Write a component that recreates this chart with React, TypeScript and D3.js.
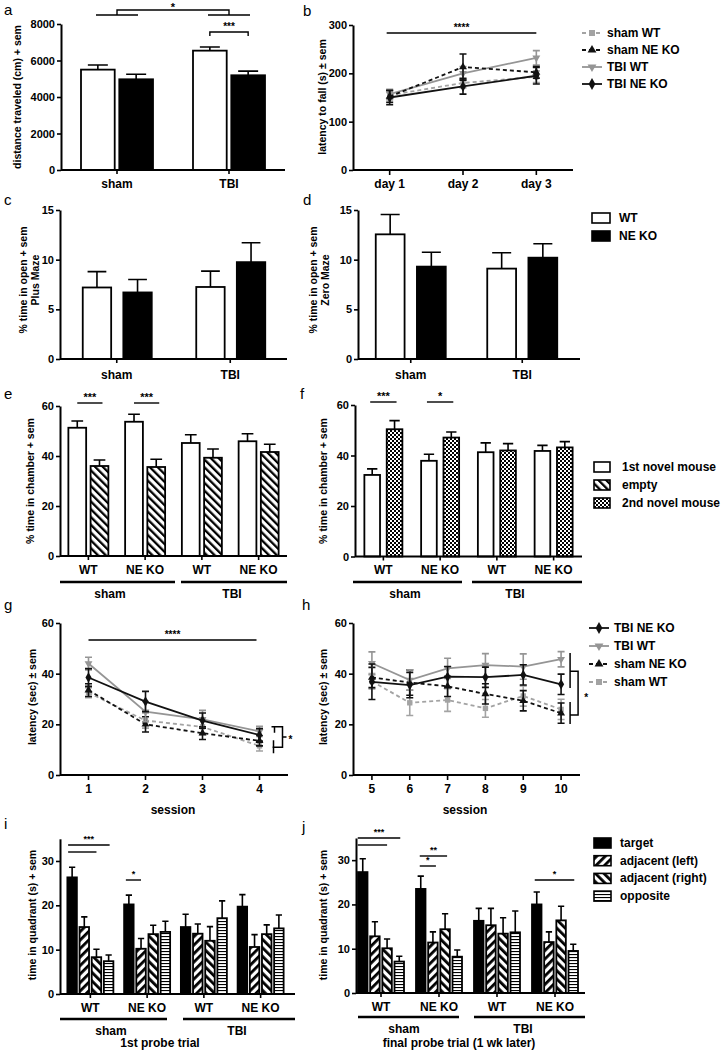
import React, { useRef, useEffect } from 'react';
import * as d3 from 'd3';

const FONT = "'Liberation Sans', Arial, Helvetica, sans-serif";

// shared categories
const injury = ['sham', 'TBI'];
const cohorts = ['sham WT', 'sham NE KO', 'TBI WT', 'TBI NE KO'];
const cohortTicks = ['WT', 'NE KO', 'WT', 'NE KO'];

// a - open field, distance traveled (cm)
const distWT = [5500, 6540];
const distWTErr = [250, 200];
const distKO = [4970, 5190];
const distKOErr = [280, 230];

// b - rotarod, latency to fall (s)
const days = ['day 1', 'day 2', 'day 3'];
const rotShamWT = [155, 180, 193];
const rotShamWTErr = [10, 10, 12];
const rotShamKO = [152, 213, 202];
const rotShamKOErr = [12, 27, 12];
const rotTbiWT = [157, 200, 232];
const rotTbiWTErr = [10, 14, 15];
const rotTbiKO = [150, 173, 195];
const rotTbiKOErr = [15, 16, 17];

// c - plus maze, % time in open
const plusWT = [7.2, 7.25];
const plusWTErr = [1.6, 1.6];
const plusKO = [6.7, 9.75];
const plusKOErr = [1.3, 1.95];

// d - zero maze, % time in open
const zeroWT = [12.55, 9.1];
const zeroWTErr = [2.0, 1.6];
const zeroKO = [9.3, 10.2];
const zeroKOErr = [1.45, 1.4];

// e - sociability, % time in chamber
const sociNovel = [51.3, 53.7, 45.2, 45.9];
const sociNovelErr = [2.7, 3.0, 3.3, 3.0];
const sociEmpty = [36.0, 35.6, 39.3, 41.6];
const sociEmptyErr = [2.4, 3.1, 3.5, 3.1];

// f - social novelty, % time in chamber
const novFirst = [32.3, 37.9, 41.3, 41.8];
const novFirstErr = [2.4, 2.6, 3.7, 2.2];
const novSecond = [50.4, 47.1, 42.0, 43.2];
const novSecondErr = [3.4, 2.2, 2.7, 2.3];

// g - water maze acquisition, sessions 1-4
const sessionsG = ['1', '2', '3', '4'];
const acqTbiKO = [38.5, 29, 21.5, 15.8];
const acqTbiKOErr = [3.5, 4, 3, 2.5];
const acqTbiWT = [44, 25, 22, 17.2];
const acqTbiWTErr = [2.5, 4, 3.5, 2];
const acqShamKO = [33.5, 20, 16.5, 13.5];
const acqShamKOErr = [2.5, 3, 2.5, 2];
const acqShamWT = [32.5, 21.5, 19, 11.5];
const acqShamWTErr = [2, 3, 3, 2];

// h - water maze reversal, sessions 5-10
const sessionsH = ['5', '6', '7', '8', '9', '10'];
const revTbiKO = [36.8, 35.5, 38.8, 38.6, 39.5, 35.8];
const revTbiKOErr = [7, 5, 4, 4, 4, 4];
const revTbiWT = [44.1, 37.5, 42.1, 43.4, 42.8, 45.7];
const revTbiWTErr = [4.5, 4, 4, 4.5, 5, 3];
const revShamKO = [38.5, 36.5, 35, 32, 29.3, 24.4];
const revShamKOErr = [4, 5, 4, 4, 4, 4];
const revShamWT = [37, 28.5, 29.6, 26.3, 31.2, 25.9];
const revShamWTErr = [3, 5, 4.5, 3.5, 4, 4];

// i - 1st probe trial, time in quadrant (s)
const p1Target = [26.3, 20.2, 15.1, 19.7];
const p1TargetErr = [2.3, 2.1, 2.9, 2.7];
const p1Left = [15.1, 10.2, 13.6, 10.6];
const p1LeftErr = [2.3, 2.3, 2.2, 2.8];
const p1Right = [8.3, 13.5, 12.0, 13.5];
const p1RightErr = [1.8, 2.0, 3.2, 2.1];
const p1Opp = [7.4, 14.0, 17.1, 14.8];
const p1OppErr = [1.4, 2.4, 3.9, 3.0];

// j - final probe trial, time in quadrant (s)
const p2Target = [27.3, 23.5, 16.3, 20.0];
const p2TargetErr = [3.0, 2.9, 2.8, 2.8];
const p2Left = [12.8, 11.4, 15.3, 11.5];
const p2LeftErr = [3.3, 2.4, 3.8, 2.3];
const p2Right = [10.1, 14.4, 13.4, 16.4];
const p2RightErr = [2.1, 3.5, 3.6, 3.2];
const p2Opp = [7.1, 8.2, 13.7, 9.5];
const p2OppErr = [1.2, 1.5, 4.8, 1.5];

const lineStyles: Record<string, any> = {
    'sham WT': { color: '#a3a3a3', dash: '4,3', symbol: d3.symbolSquare, rot: 0, size: 36 },
    'sham NE KO': { color: '#111', dash: '4,3', symbol: d3.symbolTriangle, rot: 0, size: 34 },
    'TBI WT': { color: '#959595', dash: null, symbol: d3.symbolTriangle, rot: 180, size: 34 },
    'TBI NE KO': { color: '#111', dash: null, symbol: d3.symbolDiamond, rot: 0, size: 40 },
};

type Sel = d3.Selection<any, unknown, null, undefined>;

const txt = (g: Sel, x: number, y: number, s: string, size = 12, anchor = 'middle', weight = 'bold') =>
    g.append('text')
        .attr('x', x).attr('y', y)
        .attr('font-size', size).attr('font-weight', weight)
        .attr('font-family', FONT).attr('text-anchor', anchor)
        .attr('dominant-baseline', 'central')
        .text(s);

const yTitle = (g: Sel, x: number, cy: number, s: string) =>
    g.append('text')
        .attr('transform', `translate(${x},${cy}) rotate(-90)`)
        .attr('text-anchor', 'middle').attr('dominant-baseline', 'central')
        .attr('font-size', 10.5).attr('font-weight', 'bold').attr('font-family', FONT)
        .text(s);

const styleAxis = (ax: Sel) => {
    ax.attr('font-family', FONT).attr('font-size', 11).attr('font-weight', 'bold');
    ax.select('.domain').attr('stroke-width', 2);
    ax.selectAll('.tick line').attr('stroke-width', 1.6);
};

const sig = (g: Sel, x1: number, x2: number, y: number, label: string, size = 10) => {
    g.append('path').attr('d', `M${x1},${y}H${x2}`).attr('stroke', '#000').attr('stroke-width', 1.4);
    txt(g, (x1 + x2) / 2, y - 6, label, size);
};

interface BarSeries { name: string; values: number[]; errs: number[]; fill: string }

const drawBars = (root: Sel, o: any) => {
    const g = root.append('g');
    const y = d3.scaleLinear().domain([0, o.yMax]).range([o.yBottom, o.yTop]);
    const x = d3.scaleBand<string>().domain(o.groups).range([o.b0, o.b1]);
    const xi = d3.scaleBand<string>()
        .domain(o.series.map((s: BarSeries) => s.name))
        .range(o.inner).paddingInner(o.innerPad);
    const cx = (k: string) => x(k)! + x.bandwidth() / 2;
    const bw = xi.bandwidth();
    const cap = Math.min(10, bw * 0.33);
    const barMid = (k: string, s: string) => cx(k) + xi(s)! + bw / 2;

    o.series.forEach((s: BarSeries) => {
        const sg = g.append('g');
        sg.selectAll('path').data(o.groups).join('path')
            .attr('d', (k: any, i: number) => {
                const m = barMid(k, s.name);
                const t = y(s.values[i] + s.errs[i]);
                return `M${m},${y(s.values[i])}V${t}M${m - cap},${t}H${m + cap}`;
            })
            .attr('stroke', '#000').attr('stroke-width', 1.6).attr('fill', 'none');
        sg.selectAll('rect').data(o.groups).join('rect')
            .attr('x', (k: any) => cx(k) + xi(s.name)!)
            .attr('y', (_: any, i: number) => y(s.values[i]))
            .attr('width', bw)
            .attr('height', (_: any, i: number) => o.yBottom - y(s.values[i]))
            .attr('fill', s.fill).attr('stroke', '#000').attr('stroke-width', 1.8);
    });

    // x axis with small ticks under each group
    g.append('line').attr('x1', o.x0).attr('x2', o.x1).attr('y1', o.yBottom).attr('y2', o.yBottom)
        .attr('stroke', '#000').attr('stroke-width', 2);
    g.append('g').selectAll('line').data(o.groups).join('line')
        .attr('x1', (k: any) => cx(k)).attr('x2', (k: any) => cx(k))
        .attr('y1', o.yBottom).attr('y2', o.yBottom + 4)
        .attr('stroke', '#000').attr('stroke-width', 1.6);

    const ax = g.append('g').attr('transform', `translate(${o.x0},0)`)
        .call(d3.axisLeft(y).tickValues(o.ticks).tickSize(4).tickSizeOuter(0).tickPadding(2).tickFormat(d3.format('d')) as any);
    styleAxis(ax);

    (o.labels || o.groups).forEach((l: string, i: number) => txt(root, cx(o.groups[i]), o.labelY, l, 12));
    return { x, y, cx, barMid, bw, xi };
};

interface LineSeries { name: string; values: number[]; errs: number[] }

const drawLines = (root: Sel, o: any) => {
    const g = root.append('g');
    const x = d3.scalePoint<string>().domain(o.cats).range([o.x0, o.x1]).padding(0.5);
    const y = d3.scaleLinear().domain([0, o.yMax]).range([o.yBottom, o.yTop]);

    g.append('line').attr('x1', o.x0).attr('x2', o.x1).attr('y1', o.yBottom).attr('y2', o.yBottom)
        .attr('stroke', '#000').attr('stroke-width', 2);
    g.append('g').selectAll('line').data(o.cats).join('line')
        .attr('x1', (c: any) => x(c)!).attr('x2', (c: any) => x(c)!)
        .attr('y1', o.yBottom).attr('y2', o.yBottom + 5)
        .attr('stroke', '#000').attr('stroke-width', 1.6);
    o.cats.forEach((c: string) => txt(root, x(c)!, o.labelY, c, 12));

    const ax = g.append('g').attr('transform', `translate(${o.x0},0)`)
        .call(d3.axisLeft(y).tickValues(o.ticks).tickSize(4).tickSizeOuter(0).tickPadding(2).tickFormat(d3.format('d')) as any);
    styleAxis(ax);

    o.series.forEach((s: LineSeries) => {
        const st = lineStyles[s.name];
        const pts: [number, number][] = s.values.map((v, i) => [x(o.cats[i])!, y(v)]);
        const sg = g.append('g');
        sg.append('path').attr('d', d3.line()(pts)!)
            .attr('stroke', st.color).attr('stroke-width', 1.8).attr('fill', 'none')
            .attr('stroke-dasharray', st.dash);
        sg.selectAll('path.err').data(s.values).join('path').attr('class', 'err')
            .attr('d', (v: number, i: number) => {
                const m = x(o.cats[i])!;
                const a = y(v + s.errs[i]);
                const b = y(v - s.errs[i]);
                return `M${m},${a}V${b}M${m - 3.5},${a}H${m + 3.5}M${m - 3.5},${b}H${m + 3.5}`;
            })
            .attr('stroke', st.color).attr('stroke-width', 1.6).attr('fill', 'none');
        sg.selectAll('path.mk').data(s.values).join('path').attr('class', 'mk')
            .attr('d', d3.symbol(st.symbol, st.size * 0.8)()!)
            .attr('transform', (v: number, i: number) => `translate(${x(o.cats[i])},${y(v)}) rotate(${st.rot})`)
            .attr('fill', st.color);
    });
    return { x, y };
};

const lineLegend = (root: Sel, names: string[], x0: number, x1: number, tx: number, y0: number, step: number) => {
    names.forEach((n, i) => {
        const st = lineStyles[n];
        const yy = y0 + i * step;
        root.append('line').attr('x1', x0).attr('x2', x1).attr('y1', yy).attr('y2', yy)
            .attr('stroke', st.color).attr('stroke-width', 1.8).attr('stroke-dasharray', st.dash);
        root.append('path').attr('d', d3.symbol(st.symbol, st.size)()!)
            .attr('transform', `translate(${(x0 + x1) / 2},${yy}) rotate(${st.rot})`)
            .attr('fill', st.color);
        txt(root, tx, yy, n, 12, 'start');
    });
};

const boxLegend = (root: Sel, items: { name: string; fill: string }[], x0: number, w: number, tx: number, y0: number, step: number) => {
    items.forEach((it, i) => {
        const yy = y0 + i * step;
        root.append('rect').attr('x', x0).attr('y', yy - 5).attr('width', w).attr('height', 10)
            .attr('fill', it.fill).attr('stroke', '#000').attr('stroke-width', 1.6);
        txt(root, tx, yy, it.name, 12, 'start');
    });
};

const draw = (svg: Sel) => {
    const defs = svg.append('defs');
    const stripes = (id: string, size: number, w: number, angle: number) => {
        const p = defs.append('pattern').attr('id', id).attr('width', size).attr('height', size)
            .attr('patternUnits', 'userSpaceOnUse').attr('patternTransform', `rotate(${angle})`);
        p.append('rect').attr('width', size).attr('height', size).attr('fill', '#fff');
        p.append('rect').attr('width', w).attr('height', size).attr('fill', '#000');
    };
    stripes('hatchEmpty', 5.5, 2.3, -45);
    stripes('hatchLeft', 6, 2.8, 45);
    stripes('hatchRight', 6, 2.8, -45);
    const hz = defs.append('pattern').attr('id', 'hatchH').attr('width', 4).attr('height', 3)
        .attr('patternUnits', 'userSpaceOnUse');
    hz.append('rect').attr('width', 4).attr('height', 3).attr('fill', '#fff');
    hz.append('rect').attr('width', 4).attr('height', 1.1).attr('fill', '#000');
    const ck = defs.append('pattern').attr('id', 'checker').attr('width', 4).attr('height', 4)
        .attr('patternUnits', 'userSpaceOnUse');
    ck.append('rect').attr('width', 4).attr('height', 4).attr('fill', '#fff');
    ck.append('rect').attr('width', 2).attr('height', 2).attr('fill', '#000');
    ck.append('rect').attr('x', 2).attr('y', 2).attr('width', 2).attr('height', 2).attr('fill', '#000');

    svg.append('rect').attr('width', 724).attr('height', 1050).attr('fill', '#fff');

    // panel letters
    const letters: [string, number, number][] = [
        ['a', 4, 9], ['b', 303, 10], ['c', 4, 199], ['d', 303, 199], ['e', 4, 393],
        ['f', 300, 393], ['g', 4, 604], ['h', 302, 604], ['i', 4, 823], ['j', 302, 826],
    ];
    letters.forEach(([l, x, y]) => txt(svg, x, y, l, 15, 'start', 'normal'));

    // ---- a ----
    const pa = drawBars(svg, {
        x0: 61, x1: 285, b0: 61, b1: 285, yTop: 24, yBottom: 170, yMax: 8000,
        ticks: [0, 2000, 4000, 6000, 8000], groups: injury, labelY: 184,
        series: [
            { name: 'WT', values: distWT, errs: distWTErr, fill: '#fff' },
            { name: 'NE KO', values: distKO, errs: distKOErr, fill: '#000' },
        ],
        inner: [-36, 36], innerPad: 0.12,
    });
    yTitle(svg, 17, 97, 'distance traveled (cm) + sem');
    {
        const l = pa.cx('sham'), r = pa.cx('TBI');
        svg.append('path')
            .attr('d', `M${l - 21},15H${l + 21}M${r - 21},15H${r + 21}M${l},15V10H${r}V15`)
            .attr('stroke', '#000').attr('stroke-width', 1.4).attr('fill', 'none');
        txt(svg, (l + r) / 2, 7, '*', 11);
        const b1 = pa.barMid('TBI', 'WT'), b2 = pa.barMid('TBI', 'NE KO');
        svg.append('path').attr('d', `M${b1},36V32H${b2}V36`)
            .attr('stroke', '#000').attr('stroke-width', 1.4).attr('fill', 'none');
        txt(svg, (b1 + b2) / 2, 26, '***', 10);
    }

    // ---- b ----
    const pb = drawLines(svg, {
        x0: 353, x1: 573, yTop: 25, yBottom: 170, yMax: 300, ticks: [0, 100, 200, 300],
        cats: days, labelY: 184,
        series: [
            { name: 'sham WT', values: rotShamWT, errs: rotShamWTErr },
            { name: 'TBI WT', values: rotTbiWT, errs: rotTbiWTErr },
            { name: 'sham NE KO', values: rotShamKO, errs: rotShamKOErr },
            { name: 'TBI NE KO', values: rotTbiKO, errs: rotTbiKOErr },
        ],
    });
    yTitle(svg, 322, 97, 'latency to fall (s) ± sem');
    sig(svg, pb.x('day 1')! - 3, pb.x('day 3')!, 33, '****', 10);
    lineLegend(svg, ['sham WT', 'sham NE KO', 'TBI WT', 'TBI NE KO'], 582, 602, 607, 33, 17);

    // ---- c ----
    drawBars(svg, {
        x0: 60, x1: 287, b0: 60, b1: 287, yTop: 210, yBottom: 359, yMax: 15,
        ticks: [0, 5, 10, 15], groups: injury, labelY: 375,
        series: [
            { name: 'WT', values: plusWT, errs: plusWTErr, fill: '#fff' },
            { name: 'NE KO', values: plusKO, errs: plusKOErr, fill: '#000' },
        ],
        inner: [-34, 35], innerPad: 0.3,
    });
    yTitle(svg, 23, 280, '% time in open + sem');
    yTitle(svg, 35, 280, 'Plus Maze');

    // ---- d ----
    drawBars(svg, {
        x0: 358, x1: 580, b0: 355, b1: 578, yTop: 210, yBottom: 359, yMax: 15,
        ticks: [0, 5, 10, 15], groups: injury, labelY: 375,
        series: [
            { name: 'WT', values: zeroWT, errs: zeroWTErr, fill: '#fff' },
            { name: 'NE KO', values: zeroKO, errs: zeroKOErr, fill: '#000' },
        ],
        inner: [-35, 35], innerPad: 0.3,
    });
    yTitle(svg, 313, 280, '% time in open + sem');
    yTitle(svg, 325, 280, 'Zero Maze');
    boxLegend(svg, [{ name: 'WT', fill: '#fff' }, { name: 'NE KO', fill: '#000' }], 592, 18, 619, 218, 18);

    // ---- e ----
    const pe = drawBars(svg, {
        x0: 60, x1: 287, b0: 60, b1: 287, yTop: 406, yBottom: 556, yMax: 60,
        ticks: [0, 20, 40, 60], groups: cohorts, labels: cohortTicks, labelY: 570,
        series: [
            { name: 'novel', values: sociNovel, errs: sociNovelErr, fill: '#fff' },
            { name: 'empty', values: sociEmpty, errs: sociEmptyErr, fill: 'url(#hatchEmpty)' },
        ],
        inner: [-20, 20], innerPad: 0.2,
    });
    yTitle(svg, 30, 481, '% time in chamber + sem');
    ['sham WT', 'sham NE KO'].forEach((k) =>
        sig(svg, pe.barMid(k, 'novel'), pe.barMid(k, 'empty') + 3, 403, '***', 11));
    svg.append('path').attr('d', 'M60,582H175M181,582H287').attr('stroke', '#000').attr('stroke-width', 2.6);
    txt(svg, 110, 594, 'sham', 12);
    txt(svg, 232, 594, 'TBI', 12);

    // ---- f ----
    const pf = drawBars(svg, {
        x0: 355, x1: 582, b0: 355, b1: 582, yTop: 405, yBottom: 556.5, yMax: 60,
        ticks: [0, 20, 40, 60], groups: cohorts, labels: cohortTicks, labelY: 570,
        series: [
            { name: 'first', values: novFirst, errs: novFirstErr, fill: '#fff' },
            { name: 'second', values: novSecond, errs: novSecondErr, fill: 'url(#checker)' },
        ],
        inner: [-19, 19], innerPad: 0.3,
    });
    yTitle(svg, 323, 481, '% time in chamber + sem');
    sig(svg, pf.barMid('sham WT', 'first') - 2, pf.barMid('sham WT', 'second') + 2, 402, '***', 11);
    sig(svg, pf.barMid('sham NE KO', 'first') - 2, pf.barMid('sham NE KO', 'second') + 2, 402, '*', 11);
    svg.append('path').attr('d', 'M353,582H462M472,582H582').attr('stroke', '#000').attr('stroke-width', 2.6);
    txt(svg, 405, 594, 'sham', 12);
    txt(svg, 515, 594, 'TBI', 12);
    boxLegend(svg, [
        { name: '1st novel mouse', fill: '#fff' },
        { name: 'empty', fill: 'url(#hatchEmpty)' },
        { name: '2nd novel mouse', fill: 'url(#checker)' },
    ], 594, 16, 622, 467, 18);

    // ---- g ----
    const pg = drawLines(svg, {
        x0: 60, x1: 288, yTop: 623, yBottom: 775, yMax: 60, ticks: [0, 20, 40, 60],
        cats: sessionsG, labelY: 789,
        series: [
            { name: 'sham WT', values: acqShamWT, errs: acqShamWTErr },
            { name: 'sham NE KO', values: acqShamKO, errs: acqShamKOErr },
            { name: 'TBI WT', values: acqTbiWT, errs: acqTbiWTErr },
            { name: 'TBI NE KO', values: acqTbiKO, errs: acqTbiKOErr },
        ],
    });
    yTitle(svg, 32, 697, 'latency (sec) ± sem');
    txt(svg, 173, 810, 'session', 12);
    sig(svg, pg.x('1')!, pg.x('4')! - 3, 640, '****', 10);
    {
        const bx = pg.x('4')! + 23;
        const t = pg.y(19), b = pg.y(11), m = (t + b) / 2;
        svg.append('path')
            .attr('d', `M${bx - 11},${t}H${bx}V${b}H${bx - 10}M${bx - 8},${t}V${t + 6}M${bx - 9},${b - 7}V${b + 6}M${bx},${m}H${bx + 4}`)
            .attr('stroke', '#000').attr('stroke-width', 1.5).attr('fill', 'none');
        txt(svg, bx + 8, m + 2, '*', 10);
    }

    // ---- h ----
    const ph = drawLines(svg, {
        x0: 353, x1: 580, yTop: 623, yBottom: 775, yMax: 60, ticks: [0, 20, 40, 60],
        cats: sessionsH, labelY: 789,
        series: [
            { name: 'sham WT', values: revShamWT, errs: revShamWTErr },
            { name: 'sham NE KO', values: revShamKO, errs: revShamKOErr },
            { name: 'TBI WT', values: revTbiWT, errs: revTbiWTErr },
            { name: 'TBI NE KO', values: revTbiKO, errs: revTbiKOErr },
        ],
    });
    yTitle(svg, 323, 697, 'latency (sec) ± sem');
    txt(svg, 465, 810, 'session', 12);
    {
        const lx = ph.x('10')! + 9, bx = lx + 8;
        const y = ph.y;
        svg.append('path')
            .attr('d', `M${lx},${y(48.2)}V${y(34.3)}M${lx},${y(28.8)}V${y(20.1)}M${lx},${y(41)}H${bx}V${y(23.7)}H${lx}`)
            .attr('stroke', '#000').attr('stroke-width', 1.5).attr('fill', 'none');
        txt(svg, bx + 8, y(31.5) + 2, '*', 10);
    }
    lineLegend(svg, ['TBI NE KO', 'TBI WT', 'sham NE KO', 'sham WT'], 589, 609, 614, 628, 18);

    // ---- i ----
    const quadItems = [
        { name: 'target', fill: '#000' },
        { name: 'adjacent (left)', fill: 'url(#hatchLeft)' },
        { name: 'adjacent (right)', fill: 'url(#hatchRight)' },
        { name: 'opposite', fill: 'url(#hatchH)' },
    ];
    const pi = drawBars(svg, {
        x0: 60, x1: 295, b0: 62, b1: 289, yTop: 838.8, yBottom: 994, yMax: 35,
        ticks: [0, 10, 20, 30], groups: cohorts, labels: cohortTicks, labelY: 1008,
        series: [
            { ...quadItems[0], values: p1Target, errs: p1TargetErr },
            { ...quadItems[1], values: p1Left, errs: p1LeftErr },
            { ...quadItems[2], values: p1Right, errs: p1RightErr },
            { ...quadItems[3], values: p1Opp, errs: p1OppErr },
        ],
        inner: [-23, 23], innerPad: 0.22,
    });
    yTitle(svg, 32, 915, 'time in quadrant (s) + sem');
    {
        const s0 = pi.barMid('sham WT', 'target') - 4;
        sig(svg, s0, pi.barMid('sham WT', 'opposite') + 1, 845, '***', 9);
        svg.append('path').attr('d', `M${s0},852H${pi.barMid('sham WT', 'adjacent (right)')}`)
            .attr('stroke', '#000').attr('stroke-width', 1.4);
        sig(svg, pi.barMid('sham NE KO', 'target') - 3, pi.barMid('sham NE KO', 'adjacent (left)'), 880, '*', 9);
    }
    svg.append('path').attr('d', 'M60,1019H167M183,1019H295').attr('stroke', '#000').attr('stroke-width', 2.6);
    txt(svg, 111, 1031, 'sham', 12);
    txt(svg, 237, 1031, 'TBI', 12);
    txt(svg, 160, 1043, '1st probe trial', 12);

    // ---- j ----
    const pj = drawBars(svg, {
        x0: 356, x1: 585, b0: 352, b1: 584, yTop: 838, yBottom: 993, yMax: 35,
        ticks: [0, 10, 20, 30], groups: cohorts, labels: cohortTicks, labelY: 1007,
        series: [
            { ...quadItems[0], values: p2Target, errs: p2TargetErr },
            { ...quadItems[1], values: p2Left, errs: p2LeftErr },
            { ...quadItems[2], values: p2Right, errs: p2RightErr },
            { ...quadItems[3], values: p2Opp, errs: p2OppErr },
        ],
        inner: [-23, 23], innerPad: 0.22,
    });
    yTitle(svg, 323, 915, 'time in quadrant (s) + sem');
    {
        const s0 = pj.barMid('sham WT', 'target') - 5;
        sig(svg, s0, pj.barMid('sham WT', 'opposite') + 1, 838, '***', 9);
        svg.append('path').attr('d', `M${s0},845H${pj.barMid('sham WT', 'adjacent (right)')}`)
            .attr('stroke', '#000').attr('stroke-width', 1.4);
        const k0 = pj.barMid('sham NE KO', 'target') - 1;
        sig(svg, k0, pj.barMid('sham NE KO', 'adjacent (right)') + 2, 856, '**', 9);
        sig(svg, k0, pj.barMid('sham NE KO', 'adjacent (left)') + 3, 866, '*', 9);
        sig(svg, pj.barMid('TBI NE KO', 'target') - 2, pj.barMid('TBI NE KO', 'opposite') + 1, 880, '*', 9);
    }
    svg.append('path').attr('d', 'M358,1017H459M474,1017H585').attr('stroke', '#000').attr('stroke-width', 2.6);
    txt(svg, 404, 1029, 'sham', 12);
    txt(svg, 523, 1029, 'TBI', 12);
    txt(svg, 459, 1043, 'final probe trial (1 wk later)', 12);
    boxLegend(svg, quadItems, 594, 17, 620, 843, 17.7);
};

const App: React.FC = () => {
    const ref = useRef<SVGSVGElement>(null);

    useEffect(() => {
        if (ref.current) {
            const svg = d3.select(ref.current) as Sel;
            svg.selectAll('*').remove();
            draw(svg);
        }
    }, []);

    return (
        <svg
            ref={ref}
            width={724}
            height={1050}
            style={{ position: 'absolute', left: 0, top: 0 }}
        />
    );
};

export default App;
